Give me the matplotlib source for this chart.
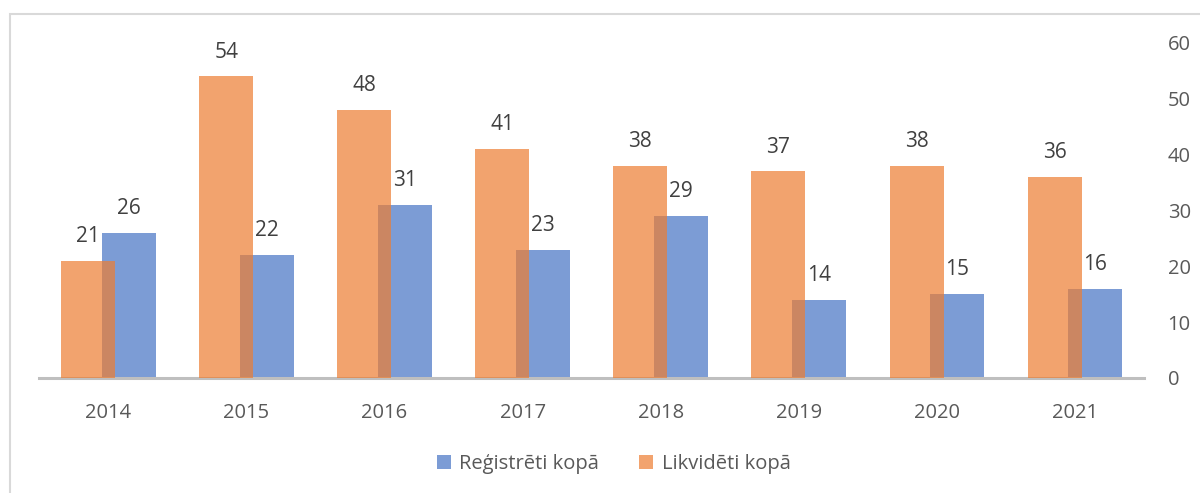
import numpy as np
import matplotlib.pyplot as plt
from matplotlib.patches import Rectangle

years = ["2014", "2015", "2016", "2017", "2018", "2019", "2020", "2021"]
registreti = [26, 22, 31, 23, 29, 14, 15, 16]
likvideti = [21, 54, 48, 41, 38, 37, 38, 36]

plt.rcParams['font.family'] = ['Open Sans', 'DejaVu Sans']
text_color = "#595959"
blue = "#4472C4"
orange = "#ED7D31"

fig = plt.figure(figsize=(12, 4.93), dpi=100)
ax = fig.add_axes([0.0328, 0.2333, 0.9205, 0.6795])

x = np.arange(len(years))
w = 0.391
off = 0.147
b1 = ax.bar(x + off, registreti, w, color=blue, alpha=0.7, label="Reģistrēti kopā", zorder=2)
b2 = ax.bar(x - off, likvideti, w, color=orange, alpha=0.7, label="Likvidēti kopā", zorder=3)

for rects, vals in ((b1, registreti), (b2, likvideti)):
    for r, v in zip(rects, vals):
        ax.annotate(str(v), (r.get_x() + r.get_width() / 2, v), xytext=(0, 10),
                    textcoords="offset points", ha="center", va="bottom",
                    fontsize=15, color="#404040")

ax.set_xlim(-0.5, len(years) - 0.5)
ax.set_ylim(0, 60)
ax.set_xticks(x)
ax.set_xticklabels(years)
ax.yaxis.tick_right()
ax.set_yticks(range(0, 61, 10))
ax.tick_params(axis="both", length=0, labelsize=14.5, colors=text_color)
ax.tick_params(axis="x", pad=18)
ax.tick_params(axis="y", pad=17)
for s in ("top", "left", "right"):
    ax.spines[s].set_visible(False)
ax.spines["bottom"].set_color("#BFBFBF")
ax.spines["bottom"].set_linewidth(2.2)

leg = ax.legend(handles=[b1, b2], loc="center", bbox_to_anchor=(0.52, -0.257),
                ncol=2, frameon=False, fontsize=14.5, handlelength=0.7,
                handleheight=0.7, handletextpad=0.4, columnspacing=2.0)
for t in leg.get_texts():
    t.set_color(text_color)

fig.patches.append(Rectangle((10 / 1200, -0.1), 1.1, 1 - 14 / 493 + 0.1,
                             transform=fig.transFigure, fill=False,
                             edgecolor="#D9D9D9", linewidth=1.5))

fig.savefig("out.png", dpi=100)
